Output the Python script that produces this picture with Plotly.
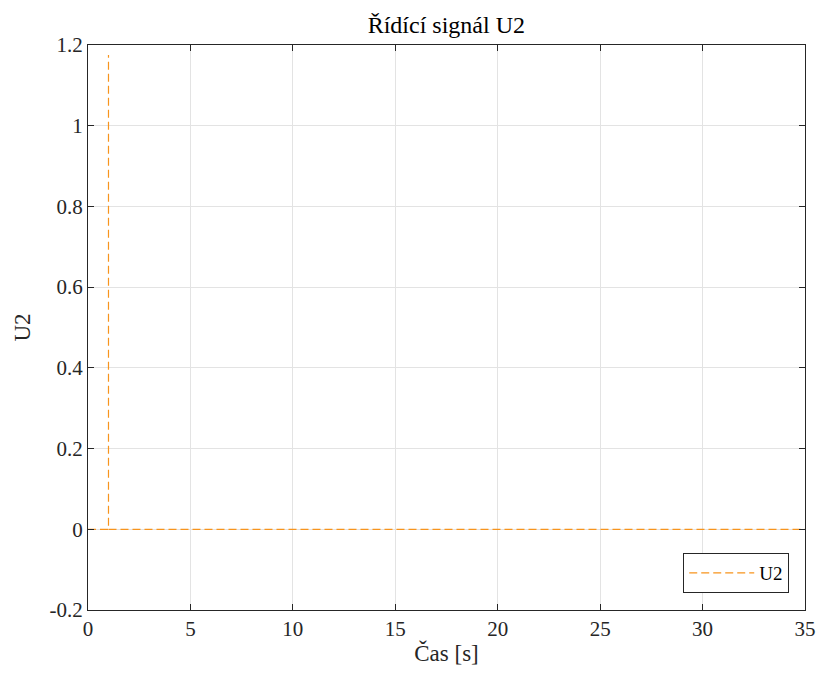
import plotly.graph_objects as go

time_s = [0, 1, 1, None, 1, 35]
u2 = [0, 0, 1.175, None, 0, 0]
x_ticks = [0, 5, 10, 15, 20, 25, 30, 35]
y_ticks = [-0.2, 0, 0.2, 0.4, 0.6, 0.8, 1, 1.2]
y_labels = ["-0.2", "0", "0.2", "0.4", "0.6", "0.8", "1", "1.2"]

FONT = "Liberation Serif, DejaVu Serif, serif"
fig = go.Figure()
fig.add_trace(go.Scatter(
    x=time_s, y=u2, mode="lines", name="U2",
    line=dict(color="#F7941D", width=1.2, dash="8px,4px"),
    connectgaps=False,
))

axis_common = dict(
    showline=True, linecolor="#262626", linewidth=1, mirror="ticks",
    ticks="inside", ticklen=6, tickcolor="#262626",
    showgrid=True, gridcolor="#E3E3E3", gridwidth=1,
    zeroline=False, automargin=False, ticklabeloverflow="allow",
    tickfont=dict(family=FONT, size=21, color="#262626"),
)

fig.update_layout(
    width=819, height=676,
    margin=dict(l=88, r=14, t=45, b=66),
    paper_bgcolor="white", plot_bgcolor="white",
    title=dict(text="Řídící signál U2", x=0.545, xanchor="center", y=0.963, yanchor="middle",
               automargin=False,
               font=dict(family=FONT, size=24, color="black")),
    xaxis=dict(range=[0, 35], tickvals=x_ticks,
               title=dict(text="Čas [s]", font=dict(family=FONT, size=23, color="#262626"), standoff=4),
               **axis_common),
    yaxis=dict(range=[-0.2, 1.2], tickvals=y_ticks, ticktext=y_labels,
               title=dict(text="U2", font=dict(family=FONT, size=23, color="#262626"), standoff=12),
               **axis_common),
    legend=dict(x=0.978, y=0.03, xanchor="right", yanchor="bottom",
                bgcolor="white", bordercolor="#262626", borderwidth=1, itemwidth=65,
                font=dict(family=FONT, size=19, color="black")),
    showlegend=True,
)

fig.write_html("out.html", config={"displayModeBar": False},
               post_script="document.body.style.margin='0';document.body.style.overflow='hidden';")
